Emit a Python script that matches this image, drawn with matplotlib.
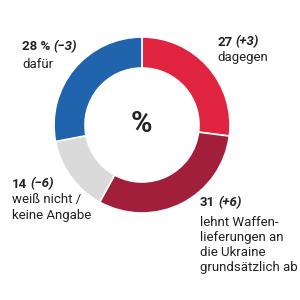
import matplotlib.pyplot as plt

# Umfragewerte in Prozent (Veränderung in Klammern)
labels = ["dagegen", "lehnt Waffen-\nlieferungen an\ndie Ukraine\ngrundsätzlich ab",
          "weiß nicht /\nkeine Angabe", "dafür"]
values = [27, 31, 14, 28]
numbers = ["27", "31", "14", "28 %"]
changes = ["(+3)", "(+6)", "(\u22126)", "(\u22123)"]
colors = ["#e0243f", "#a21f3b", "#dadada", "#2064ae"]

plt.rcParams['font.family'] = ['Roboto', 'DejaVu Sans']

fig = plt.figure(figsize=(3, 3), dpi=100)
ax = fig.add_axes([0, 0, 1, 1])
ax.axis('off')

ax.pie(values, colors=colors, startangle=90, counterclock=False,
       center=(142, 175), radius=88,
       wedgeprops=dict(width=31, edgecolor='white', linewidth=1.2))
ax.set_xlim(0, 300)
ax.set_ylim(0, 300)
ax.set_aspect('equal')

ax.text(141, 176, "%", ha='center', va='center', fontsize=21, fontweight='bold', color='#222222')

# label positions: x, y of number line, y of the label block centre (pixels from bottom)
label_pos = [(217, 258, 242), (200, 97, 55), (12, 116, 92.5), (22, 253, 236)]

for num, chg, lab, (x, y, yb) in zip(numbers, changes, labels, label_pos):
    t = ax.text(x, y, num, ha='left', va='center', fontsize=9.5,
                fontweight='bold', color='#222222')
    ax.annotate(chg, xy=(1, 0.5), xycoords=t, xytext=(2.5, 0), textcoords='offset points',
                ha='left', va='center', fontsize=9.5, fontweight='bold',
                fontstyle='italic', color='#222222')
    ax.text(x, yb, lab, ha='left', va='center', fontsize=9.5, color='#222222',
            linespacing=1.22)

fig.savefig("out.png", dpi=100)
